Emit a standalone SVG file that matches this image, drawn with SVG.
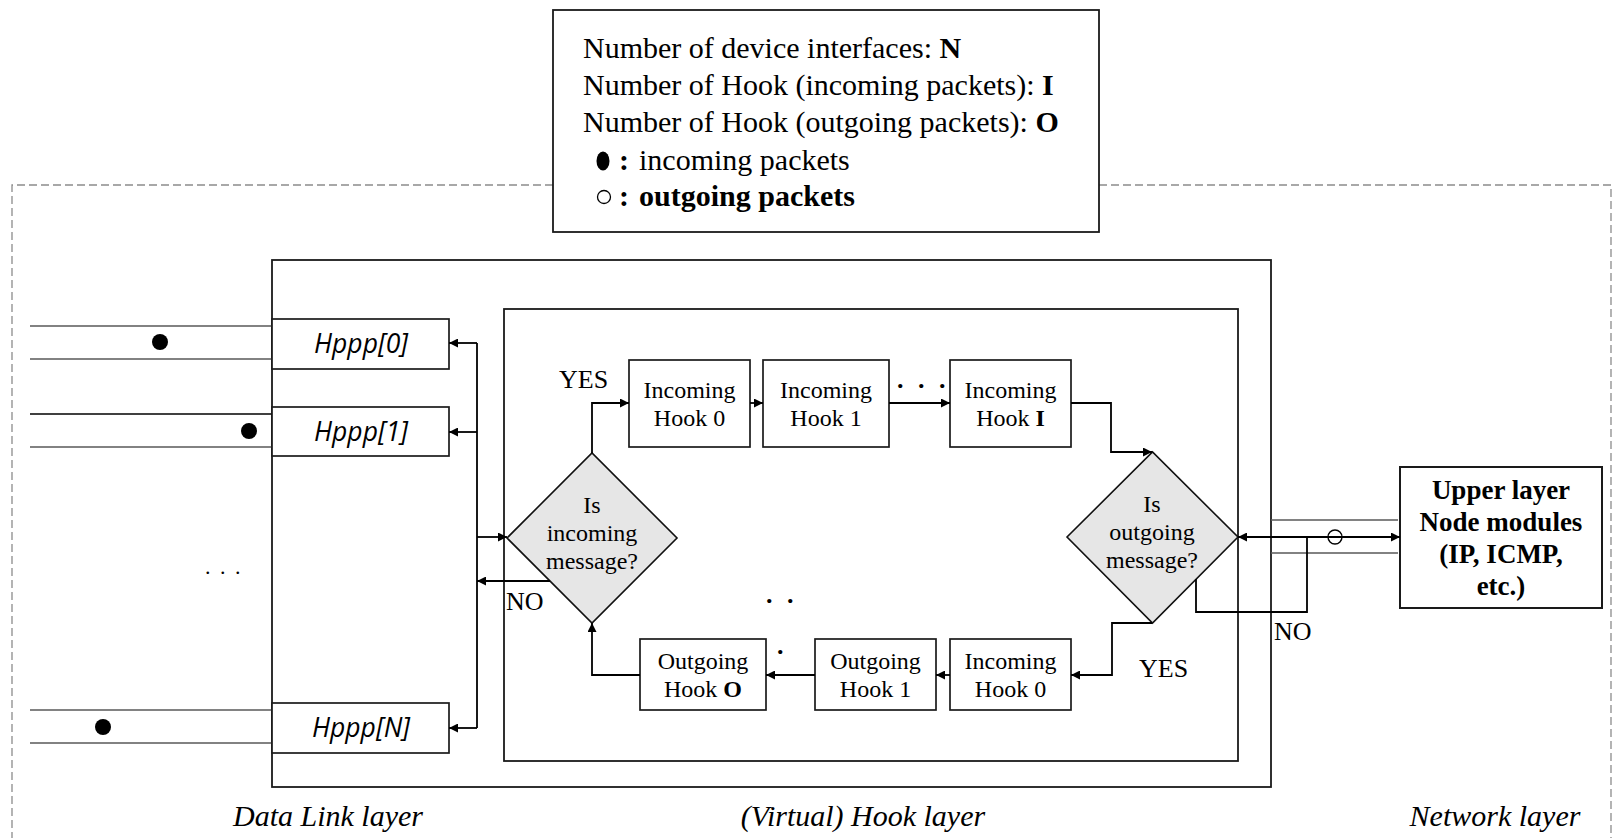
<svg xmlns="http://www.w3.org/2000/svg" width="1614" height="838" viewBox="0 0 1614 838">
  <style>
    .box { fill: #ffffff; stroke: #1a1a1a; stroke-width: 1.7; }
    .frame { fill: none; stroke: #1a1a1a; stroke-width: 1.8; }
    .decision { fill: #e6e6e6; stroke: #111111; stroke-width: 1.6; }
    .conn { fill: none; stroke: #000000; stroke-width: 1.8; }
    .pipe { fill: none; stroke: #5a5a5a; stroke-width: 1.4; }
    .dashed { fill: none; stroke: #8c8c8c; stroke-width: 1.3; stroke-dasharray: 8 4; }
    .serif { font-family: "Liberation Serif", "Times New Roman", serif; fill: #000; }
    .node-text { font-size: 24px; text-anchor: middle; }
    .label { font-size: 26px; }
    .legend { font-size: 30px; }
    .layer { font-size: 30px; font-style: italic; text-anchor: middle; }
    .hppp { font-family: "Open Sans", "DejaVu Sans", sans-serif; font-style: italic; font-size: 26.5px; text-anchor: middle; fill: #000; }
    .upper { font-size: 27px; font-weight: bold; text-anchor: middle; }
    .b { font-weight: bold; }
  </style>
  <defs>
    <marker id="arrow" viewBox="0 0 10 10" refX="10" refY="5" markerWidth="10" markerHeight="9" orient="auto-start-reverse" markerUnits="userSpaceOnUse">
      <path d="M0,0 L10,5 L0,10 Z" fill="#000"/>
    </marker>
  </defs>

  <rect width="1614" height="838" fill="#ffffff"/>

  <!-- dashed boundary of the node -->
  <path class="dashed" d="M553,185 H12 V838"/>
  <path class="dashed" d="M1099,185 H1611 V838"/>

  <!-- legend -->
  <g id="legend">
    <rect class="frame" x="553" y="10" width="546" height="222" fill="#fff"/>
    <text class="serif legend" x="583" y="58">Number of device interfaces: <tspan class="b">N</tspan></text>
    <text class="serif legend" x="583" y="95">Number of Hook (incoming packets): <tspan class="b">I</tspan></text>
    <text class="serif legend" x="583" y="132">Number of Hook (outgoing packets): <tspan class="b">O</tspan></text>
    <ellipse cx="603" cy="161" rx="6.5" ry="9.5" fill="#000"/>
    <text class="serif legend" x="619" y="170"><tspan class="b">:</tspan><tspan x="639">incoming packets</tspan></text>
    <circle cx="604" cy="197" r="6.5" fill="none" stroke="#000" stroke-width="1.3"/>
    <text class="serif legend b" x="619" y="206">:<tspan x="639">outgoing packets</tspan></text>
  </g>

  <!-- layer frames -->
  <g id="datalink-frame">
    <rect class="frame" x="272" y="260" width="999" height="527"/>
  </g>
  <g id="hook-frame">
    <rect class="frame" x="504" y="309" width="734" height="452"/>
  </g>

  <!-- link-side packet lines -->
  <g id="links">
    <path class="pipe" d="M30,326 H272 M30,359 H272"/>
    <path class="pipe" d="M30,447 H272 M30,743 H272 M30,710 H272"/>
    <path d="M30,414 H272" stroke="#000" stroke-width="1.4"/>
    <circle cx="160" cy="342" r="8" fill="#000"/>
    <circle cx="249" cy="431" r="8" fill="#000"/>
    <circle cx="103" cy="727" r="8" fill="#000"/>
    <text class="serif" x="205" y="574" font-size="22" letter-spacing="2">. . .</text>
  </g>

  <!-- device interfaces -->
  <g id="hppp0">
    <rect class="box" x="272" y="319" width="177" height="50"/>
    <text class="hppp" x="361" y="353">Hppp[0]</text>
  </g>
  <g id="hppp1">
    <rect class="box" x="272" y="407" width="177" height="49"/>
    <text class="hppp" x="361" y="441">Hppp[1]</text>
  </g>
  <g id="hpppN">
    <rect class="box" x="272" y="703" width="177" height="50"/>
    <text class="hppp" x="361" y="737">Hppp[N]</text>
  </g>

  <!-- decisions -->
  <g id="is-incoming">
    <polygon class="decision" points="507,538 592,453 677,538 592,623"/>
    <text class="serif node-text" x="592" y="513">Is</text>
    <text class="serif node-text" x="592" y="541">incoming</text>
    <text class="serif node-text" x="592" y="569">message?</text>
  </g>
  <g id="is-outgoing">
    <polygon class="decision" points="1067,537 1152.5,452 1238,537 1152.5,623"/>
    <text class="serif node-text" x="1152" y="512">Is</text>
    <text class="serif node-text" x="1152" y="540">outgoing</text>
    <text class="serif node-text" x="1152" y="568">message?</text>
  </g>

  <!-- incoming hook chain -->
  <g id="in-hook-0">
    <rect class="box" x="629" y="360" width="121" height="87"/>
    <text class="serif node-text" x="689.5" y="398">Incoming</text>
    <text class="serif node-text" x="689.5" y="426">Hook 0</text>
  </g>
  <g id="in-hook-1">
    <rect class="box" x="763" y="360" width="126" height="87"/>
    <text class="serif node-text" x="826" y="398">Incoming</text>
    <text class="serif node-text" x="826" y="426">Hook 1</text>
  </g>
  <g id="in-hook-I">
    <rect class="box" x="950" y="360" width="121" height="87"/>
    <text class="serif node-text" x="1010.5" y="398">Incoming</text>
    <text class="serif node-text" x="1010.5" y="426">Hook <tspan class="b">I</tspan></text>
  </g>

  <!-- outgoing hook chain -->
  <g id="out-in-hook-0">
    <rect class="box" x="950" y="639" width="121" height="71"/>
    <text class="serif node-text" x="1010.5" y="669">Incoming</text>
    <text class="serif node-text" x="1010.5" y="697">Hook 0</text>
  </g>
  <g id="out-hook-1">
    <rect class="box" x="815" y="639" width="121" height="71"/>
    <text class="serif node-text" x="875.5" y="669">Outgoing</text>
    <text class="serif node-text" x="875.5" y="697">Hook 1</text>
  </g>
  <g id="out-hook-O">
    <rect class="box" x="640" y="639" width="126" height="71"/>
    <text class="serif node-text" x="703" y="669">Outgoing</text>
    <text class="serif node-text" x="703" y="697">Hook <tspan class="b">O</tspan></text>
  </g>

  <!-- upper layer -->
  <g id="upper-layer">
    <rect class="box" x="1400" y="467" width="202" height="141" style="stroke-width:2"/>
    <text class="serif upper" x="1501" y="499">Upper layer</text>
    <text class="serif upper" x="1501" y="531">Node modules</text>
    <text class="serif upper" x="1501" y="563">(IP, ICMP,</text>
    <text class="serif upper" x="1501" y="595">etc.)</text>
  </g>

  <!-- connectors -->
  <g id="connectors">
    <!-- interface bus -->
    <path class="conn" d="M477,343 V728"/>
    <path class="conn" d="M477,343 H449" marker-end="url(#arrow)"/>
    <path class="conn" d="M477,432 H449" marker-end="url(#arrow)"/>
    <path class="conn" d="M477,728 H449" marker-end="url(#arrow)"/>
    <path class="conn" d="M477,537 H507" marker-end="url(#arrow)" stroke-width="2.2"/>
    <path class="conn" d="M550,581 H477" marker-end="url(#arrow)"/>

    <!-- incoming chain -->
    <path class="conn" d="M592,453 V403 H629" marker-end="url(#arrow)"/>
    <path class="conn" d="M750,403 H763" marker-end="url(#arrow)"/>
    <path class="conn" d="M889,403 H950" marker-end="url(#arrow)"/>
    <path class="conn" d="M1071,403 H1111 V452 H1152" marker-end="url(#arrow)"/>

    <!-- outgoing chain -->
    <path class="conn" d="M1152,623 H1112 V675 H1071" marker-end="url(#arrow)"/>
    <path class="conn" d="M950,675 H936" marker-end="url(#arrow)"/>
    <path class="conn" d="M815,675 H766" marker-end="url(#arrow)"/>
    <path class="conn" d="M640,675 H592 V623" marker-end="url(#arrow)"/>

    <!-- network side -->
    <path class="pipe" d="M1271,520 H1398 M1271,553 H1398"/>
    <path class="conn" d="M1238,537 H1400" marker-start="url(#arrow)" marker-end="url(#arrow)" stroke-width="2.2"/>
    <path class="conn" d="M1196,579 V612 H1307 V537"/>
    <circle cx="1335" cy="537" r="7" fill="none" stroke="#000" stroke-width="1.4"/>
  </g>

  <!-- ellipsis marks in the chains -->
  <text class="serif" x="897" y="388" font-size="26" font-weight="bold" letter-spacing="4">. . .</text>
  <text class="serif" x="766" y="603" font-size="26" font-weight="bold" letter-spacing="4">. .</text>
  <text class="serif" x="777" y="654" font-size="26" font-weight="bold">.</text>

  <!-- branch labels -->
  <text class="serif label" x="559" y="388">YES</text>
  <text class="serif label" x="506" y="610">NO</text>
  <text class="serif label" x="1139" y="677">YES</text>
  <text class="serif label" x="1274" y="640">NO</text>

  <!-- layer captions -->
  <text class="serif layer" x="328" y="826">Data Link layer</text>
  <text class="serif layer" x="863" y="826">(Virtual) Hook layer</text>
  <text class="serif layer" x="1495" y="826">Network layer</text>
</svg>
